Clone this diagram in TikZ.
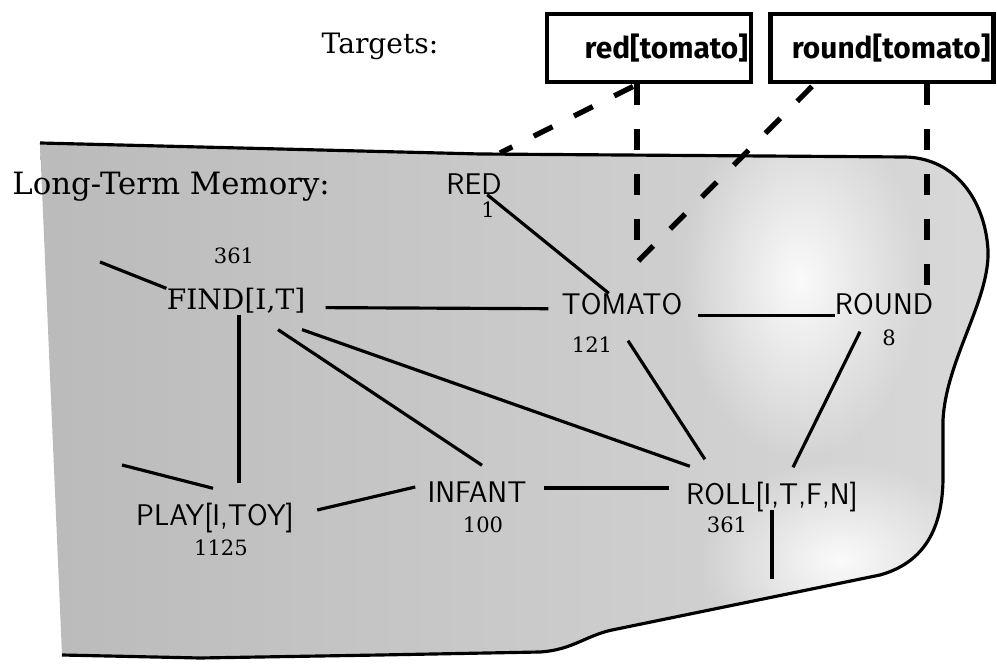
\documentclass[tikz,border=0pt]{standalone}
\usepackage{fontspec}
\setmainfont{DejaVu Serif}
\newfontfamily\targetfont{Fira Sans}
\usetikzlibrary{calc,fadings}
\tikzfading[name=softspot, inner color=transparent!10, outer color=transparent!100]
\colorlet{ShadeDark}{black!27}
\colorlet{ShadeLight}{black!15}

\begin{document}
\begin{tikzpicture}[x=0.02cm,y=-0.02cm,
  concept/.style={font=\sffamily\fontsize{17}{17}\selectfont, inner sep=0pt, text height=11.8pt, text depth=0pt},
  pred/.style={font=\fontsize{16}{16}\selectfont, inner sep=0pt, text height=11.7pt, text depth=0pt},
  weight/.style={font=\fontsize{12}{12}\selectfont, inner sep=0pt, text height=8.8pt, text depth=0pt},
  heading/.style={inner sep=0pt, text depth=0pt},
  target/.style={draw, line width=2.8pt, font=\targetfont\bfseries\fontsize{17}{17}\selectfont,
    minimum height=1.36cm, inner xsep=0.06cm, inner ysep=0pt, align=right, text height=12pt, text depth=0pt},
  link/.style={line width=1.8pt},
  cue/.style={line width=3pt, dash pattern=on 0.42cm off 0.48cm},
  rim/.style={line width=1.8pt, line join=round}]
  \useasboundingbox (0,0) rectangle (997,671);
  %Vung nen
  \begin{scope}
    \clip (40,143) -- (480,154) -- (905,157) .. controls (955,158) and (985,200) .. (988,250)
      .. controls (990,300) and (946,360) .. (943,420) -- (943,480)
      .. controls (942,540) and (915,565) .. (880,575) -- (612,630)
      .. controls (585,636) and (572,650) .. (540,652) -- (380,655) -- (200,658) -- (62,655) -- cycle;
    \shade[left color=ShadeDark, right color=ShadeLight] (30,130) rectangle (997,671);
    \fill[white, path fading=softspot] (800,280) ellipse [x radius=2.4cm, y radius=3.6cm];
    \fill[white, path fading=softspot] (840,560) ellipse [x radius=2.8cm, y radius=2cm];
  \end{scope}
  \draw[rim] (40,143) -- (480,154) -- (905,157) .. controls (955,158) and (985,200) .. (988,250)
      .. controls (990,300) and (946,360) .. (943,420) -- (943,480)
      .. controls (942,540) and (915,565) .. (880,575) -- (612,630)
      .. controls (585,636) and (572,650) .. (540,652) -- (380,655) -- (200,658) -- (62,655);
  %Nhan
  \node[heading, font=\fontsize{16}{16}\selectfont, text height=11.7pt] (tlabel) at (380,43) {Targets:};
  \node[heading, anchor=west, font=\fontsize{17.5}{17.5}\selectfont, text height=12.8pt] (mlabel) at (12,183) {Long-Term Memory:};
  %Hop dich
  \node[target, minimum width=4.08cm, text width=3.96cm] (redbox) at (649,48) {red[tomato]};
  \node[target, minimum width=4.46cm, text width=4.34cm] (roundbox) at (882,48) {round[tomato]};
  %Khai niem
  \node[concept] (red) at (474,184) {RED};
  \node[concept] (tomato) at (622,304) {TOMATO};
  \node[concept] (round) at (884,304) {ROUND};
  \node[pred] (find) at (236,299) {FIND[I,T]};
  \node[concept] (play) at (215,515) {PLAY[I,TOY]};
  \node[concept] (infant) at (477,492) {INFANT};
  \node[concept] (roll) at (772,494) {ROLL[I,T,F,N]};
  %Trong so
  \node[weight] (wred) at (488,210) {1};
  \node[weight] (wfind) at (234,256) {361};
  \node[weight] (wtomato) at (592,345) {121};
  \node[weight] (wround) at (889,338) {8};
  \node[weight] (wplay) at (221,548) {1125};
  \node[weight] (winfant) at (483,525) {100};
  \node[weight] (wroll) at (727,525) {361};
  %Dau tu do
  \coordinate (findin) at (100,262);
  \coordinate (playin) at (122,465);
  \coordinate (rollout) at (772,579);
  \coordinate (cueend) at (500,153);
  %Lien ket
  \draw[link] (red) -- (tomato);
  \draw[link] ($(find.south east)+(20,-2)$) -- ($(tomato.south west)+(-13,-6)$);
  \draw[link] ($(tomato.south east)+(15,1)$) -- ($(round.south west)+(0,1)$);
  \draw[link] (findin) -- (find.north west);
  \draw[link] ($(find.south)+(3,5)$) -- ($(play.north)+(24,-21)$);
  \draw[link] ($(find.south)+(42,20)$) -- ($(infant.north)+(5,-16)$);
  \draw[link] ($(find.south)+(66,20)$) -- ($(roll.north west)+(4,-17)$);
  \draw[link] ($(tomato.south)+(6,26)$) -- ($(roll.north west)+(19,-24)$);
  \draw[link] ($(round.south)+(-24,17)$) -- ($(roll.north)+(21,-16)$);
  \draw[link] (playin) -- ($(play.north)+(-2,-16)$);
  \draw[link] ($(play.east)+(23,-5)$) -- ($(infant.west)+(-12,-5)$);
  \draw[link] ($(infant.east)+(17,-4)$) -- ($(roll.west)+(-17,-6)$);
  \draw[link] ($(roll.south)+(0,5)$) -- (rollout);
  %Duong dut
  \draw[cue] ($(redbox.south)+(-16,2)$) -- (cueend);
  \draw[cue] ($(redbox.south)+(-12,0)$) -- ($(tomato.north)+(15,-43)$);
  \draw[cue] ($(roundbox.south)+(-70,2)$) -- ($(tomato.north)+(15,-31)$);
  \draw[cue] ($(roundbox.south)+(45,0)$) -- ($(round.north)+(43,-6)$);
\end{tikzpicture}
\end{document}
